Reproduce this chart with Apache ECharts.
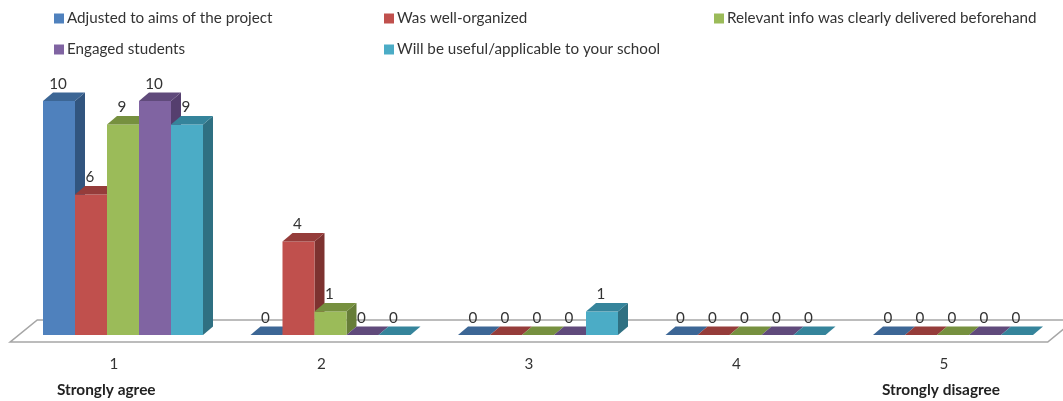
<!DOCTYPE html>
<html lang="en">
<head>
<meta charset="UTF-8">
<title>Chart</title>
<script src="https://cdn.jsdelivr.net/npm/echarts@6/dist/echarts.min.js"></script>
<style>
    html, body { margin: 0; padding: 0; background: #fff; }
    #main { width: 1063px; height: 401px; }
</style>
</head>
<body>
<div id="main"></div>
<script>
    // values
    const categories = ['1', '2', '3', '4', '5'];
    const adjusted = [10, 0, 0, 0, 0];
    const organized = [6, 4, 0, 0, 0];
    const delivered = [9, 1, 0, 0, 0];
    const engaged = [10, 0, 0, 0, 0];
    const useful = [9, 0, 1, 0, 0];
    const seriesNames = [
        'Adjusted to aims of the project',
        'Was well-organized',
        'Relevant info was clearly delivered beforehand',
        'Engaged students',
        'Will be useful/applicable to your school'
    ];
    const scaleEnds = ['Strongly agree', 'Strongly disagree'];

    const FONT = 'Lato';
    const TEXT = '#333333';
    const BAR_W = 32;
    const DEPTH_X = 10;
    const DEPTH_Y = 8.5;
    const SHIFT_X = 9;   // bars stand further back than the axis line
    const SHIFT_Y = 8;

    const palette = [
        { front: '#4f81bd', top: '#3c6695', side: '#31557f' },
        { front: '#c0504d', top: '#953c3a', side: '#7d3230' },
        { front: '#9bbb59', top: '#76903f', side: '#667d38' },
        { front: '#8064a2', top: '#604a7b', side: '#553f6e' },
        { front: '#4bacc6', top: '#35849b', side: '#2f7082' }
    ];

    function bar3d(seriesPos) {
        return function (params, api) {
            let c = palette[seriesPos];
            let base = api.coord([api.value(0), 0]);
            let head = api.coord([api.value(0), api.value(1)]);
            let x0 = base[0] + SHIFT_X + (seriesPos - 2.5) * BAR_W;
            let x1 = x0 + BAR_W;
            let yb = base[1] - SHIFT_Y;
            let yt = head[1] - SHIFT_Y;
            let children = [];
            if (api.value(1) > 0) {
                children.push({
                    type: 'polygon',
                    shape: { points: [[x1, yb], [x1 + DEPTH_X, yb - DEPTH_Y], [x1 + DEPTH_X, yt - DEPTH_Y], [x1, yt]] },
                    style: { fill: c.side }
                });
                children.push({
                    type: 'rect',
                    shape: { x: x0, y: yt, width: BAR_W, height: yb - yt },
                    style: { fill: c.front }
                });
            }
            children.push({
                type: 'polygon',
                shape: { points: [[x0, yt], [x0 + DEPTH_X, yt - DEPTH_Y], [x1 + DEPTH_X, yt - DEPTH_Y], [x1, yt]] },
                style: { fill: c.top }
            });
            children.push({
                type: 'text',
                z2: 50,
                style: {
                    x: x0 + BAR_W / 2 - 1,
                    y: yt - 17,
                    text: String(api.value(1)),
                    align: 'center',
                    verticalAlign: 'middle',
                    font: '15.2px ' + FONT,
                    fill: TEXT
                }
            });
            return { type: 'group', children: children };
        };
    }

    function floor(params) {
        let g = params.coordSys;
        let yFront = g.y + g.height - 1;
        let yBack = yFront - 22;
        return {
            type: 'polygon',
            shape: { points: [[g.x, yFront], [g.x + g.width, yFront], [g.x + g.width + 27, yBack], [g.x + 27, yBack]] },
            style: { fill: '#fff', stroke: '#a6a6a6', lineWidth: 1.6 }
        };
    }

    function legendAt(name, left, top) {
        return {
            left: left, top: top,
            data: [name],
            icon: 'rect',
            itemWidth: 10, itemHeight: 10, itemGap: 0,
            padding: 0,
            textStyle: { fontFamily: FONT, fontSize: 15.2, color: TEXT, padding: [0, 0, 0, -2] },
            selectedMode: false
        };
    }

    const valueLists = [adjusted, organized, delivered, engaged, useful];
    let series = [{
        type: 'custom',
        name: 'floor',
        silent: true,
        renderItem: floor,
        data: [[0, 0]],
        encode: { x: 0, y: 1 }
    }];
    valueLists.forEach(function (values, i) {
        series.push({
            type: 'custom',
            name: seriesNames[i],
            renderItem: bar3d(i),
            itemStyle: { color: palette[i].front },
            data: values.map(function (v, k) { return [k, v]; }),
            encode: { x: 0, y: 1 }
        });
    });

    let myChart = echarts.init(document.getElementById('main'), null, { renderer: 'canvas' });
    myChart.setOption({
        animation: false,
        backgroundColor: '#fff',
        legend: [
            legendAt(seriesNames[0], 54, 11),
            legendAt(seriesNames[1], 384, 11),
            legendAt(seriesNames[2], 714, 11),
            legendAt(seriesNames[3], 54, 42),
            legendAt(seriesNames[4], 384, 42)
        ],
        grid: { left: 10.25, right: 15.25, top: 109, bottom: 58 },
        xAxis: {
            type: 'category',
            data: categories,
            axisLine: { show: false },
            axisTick: { show: false },
            axisLabel: { fontFamily: FONT, fontSize: 15.2, color: TEXT, margin: 14 }
        },
        yAxis: { type: 'value', min: 0, max: 10, show: false },
        graphic: [
            { type: 'text', left: 57, top: 383, style: { text: scaleEnds[0], font: 'bold 15.4px ' + FONT, fill: '#222' } },
            { type: 'text', left: 882, top: 383, style: { text: scaleEnds[1], font: 'bold 15.4px ' + FONT, fill: '#222' } }
        ],
        series: series
    });
</script>
</body>
</html>
